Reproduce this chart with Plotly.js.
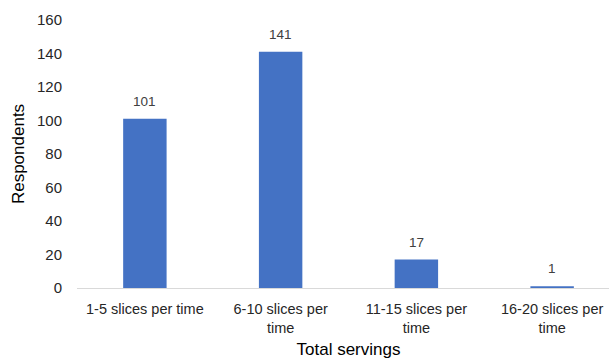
<!DOCTYPE html>
<html>
<head>
<meta charset="utf-8">
<script src="https://cdn.plot.ly/plotly-3.0.1.min.js"></script>
<style>
  html, body { margin: 0; padding: 0; overflow: hidden; background: #ffffff; }
  #chart { width: 632px; height: 366px; }
</style>
</head>
<body>
<div id="chart"></div>
<script>
// Survey: how many slices eaten per serving
const categories = [
  "1-5 slices per time",
  "6-10 slices per<br>time",
  "11-15 slices per<br>time",
  "16-20 slices per<br>time"
];
const respondents = [101, 141, 17, 1];
const yTicks = [0, 20, 40, 60, 80, 100, 120, 140, 160];

const font = "Liberation Sans, Arial, sans-serif";

const trace = {
  type: "bar",
  x: categories,
  y: respondents,
  marker: { color: "#4472C4", line: { width: 0 } },
  hoverinfo: "skip"
};

// value labels above each bar
const valueLabels = categories.map((c, i) => ({
  x: c,
  y: respondents[i],
  xref: "x",
  yref: "y",
  text: String(respondents[i]),
  showarrow: false,
  yanchor: "bottom",
  yshift: 8,
  font: { family: font, size: 13.5, color: "#404040" }
}));

const layout = {
  width: 632,
  height: 366,
  margin: { l: 77, r: 12, t: 20, b: 78 },
  paper_bgcolor: "#ffffff",
  plot_bgcolor: "#ffffff",
  bargap: 0.68,
  showlegend: false,
  font: { family: font, color: "#404040" },
  annotations: valueLabels,
  xaxis: {
    type: "category",
    showgrid: false,
    showline: true,
    linecolor: "#d9d9d9",
    linewidth: 1,
    ticks: "",
    ticklabelstandoff: 8,
    tickfont: { family: font, size: 14.5, color: "#262626" },
    title: { text: "Total servings", font: { family: font, size: 17, color: "#000000" }, standoff: 7 },
    automargin: false
  },
  yaxis: {
    range: [0, 160],
    tickvals: yTicks,
    ticktext: yTicks.map(String),
    showgrid: false,
    zeroline: false,
    showline: false,
    ticks: "",
    ticklabelstandoff: 14,
    tickfont: { family: font, size: 15, color: "#262626" },
    title: { text: "Respondents", font: { family: font, size: 17, color: "#000000" }, standoff: 8 },
    automargin: false
  }
};

Plotly.newPlot("chart", [trace], layout, { displayModeBar: false, staticPlot: true });
</script>
</body>
</html>
